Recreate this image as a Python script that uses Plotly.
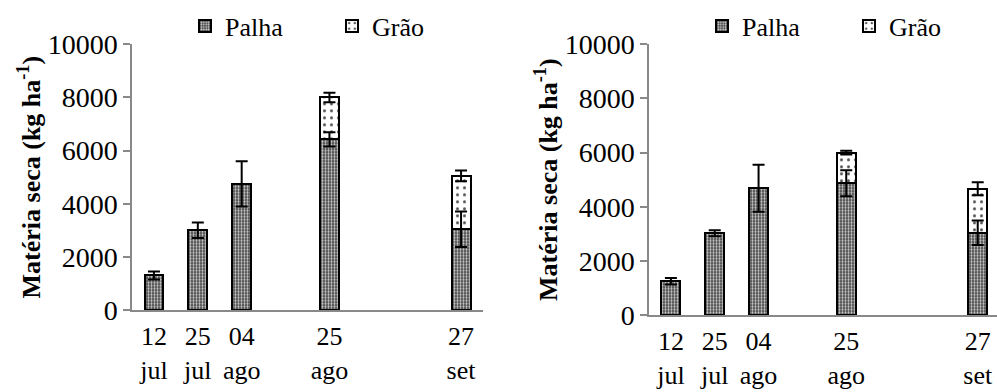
import plotly.graph_objects as go

# ---- data ----
dates = ["12<br>jul", "25<br>jul", "04<br>ago", "25<br>ago", "27<br>set"]
slots = [0, 1, 2, 4, 7]  # category slot of each sampling date (Excel axis with blank slots)

palha_a = [1300, 3000, 4750, 6420, 3040]
palha_a_err = [150, 290, 850, 270, 670]
grao_a = [None, None, None, 1580, 2010]
total_a_err = [None, None, None, 180, 200]

palha_b = [1250, 3020, 4680, 4870, 3040]
palha_b_err = [120, 110, 870, 480, 450]
grao_b = [None, None, None, 1130, 1620]
total_b_err = [None, None, None, 70, 240]

yticks = [0, 2000, 4000, 6000, 8000, 10000]
ytitle = "Matéria seca (kg ha<sup>-1</sup>)"

FONT = "Liberation Serif, Times New Roman, serif"
W, H = 997, 392

palha_marker = dict(color="#3c3c3c", line=dict(color="black", width=2),
                    pattern=dict(shape=".", bgcolor="#3c3c3c", fgcolor="#cfcfcf",
                                 size=3, solidity=0.45, fillmode="replace"))
grao_marker = dict(color="white", line=dict(color="black", width=2),
                   pattern=dict(shape=".", bgcolor="white", fgcolor="#555555",
                                size=7, solidity=0.15, fillmode="replace"))

fig = go.Figure()


def add_panel(palha, palha_err, grao, total_err, xa, ya, legend):
    fig.add_trace(go.Bar(x=slots, y=palha, name="Palha", marker=palha_marker,
                         width=0.43, xaxis=xa, yaxis=ya, legend=legend))
    fig.add_trace(go.Bar(x=slots, y=grao, name="Grão", marker=grao_marker,
                         width=0.43, xaxis=xa, yaxis=ya, legend=legend))
    # error bars drawn on top of both stacked segments
    fig.add_trace(go.Scatter(x=slots, y=palha, mode="markers",
                             marker=dict(size=1, color="rgba(0,0,0,0)"),
                             error_y=dict(type="data", array=palha_err, color="black",
                                          thickness=2, width=6),
                             showlegend=False, hoverinfo="skip", xaxis=xa, yaxis=ya))
    totals = [p + g if g is not None else None for p, g in zip(palha, grao)]
    fig.add_trace(go.Scatter(x=slots, y=totals, mode="markers",
                             marker=dict(size=1, color="rgba(0,0,0,0)"),
                             error_y=dict(type="data", array=total_err, color="black",
                                          thickness=2, width=6),
                             showlegend=False, hoverinfo="skip", xaxis=xa, yaxis=ya))


add_panel(palha_a, palha_a_err, grao_a, total_a_err, "x", "y", "legend")
add_panel(palha_b, palha_b_err, grao_b, total_b_err, "x2", "y2", "legend2")

axis_gray = "#898989"
xcommon = dict(tickmode="array", tickvals=slots, ticktext=dates, showline=True,
               linecolor=axis_gray, linewidth=1.5, ticks="", showgrid=False,
               zeroline=False, tickfont=dict(family=FONT, size=26, color="black"),
               ticklabelstandoff=2, fixedrange=True)
ycommon = dict(range=[0, 10000], tickmode="array", tickvals=yticks,
               ticktext=[str(v) for v in yticks], showline=True, linecolor=axis_gray,
               linewidth=1.5, ticks="outside", ticklen=7, tickcolor=axis_gray,
               tickwidth=1.5, showgrid=False, zeroline=False,
               tickfont=dict(family=FONT, size=28, color="black"),
               title=dict(text=ytitle, font=dict(family=FONT, size=26, color="black",
                                                  weight="bold"), standoff=0))

legcommon = dict(orientation="h", y=(H - 26) / H, xanchor="left", yanchor="middle",
                 font=dict(family=FONT, size=26, color="black"), traceorder="normal",
                 bgcolor="rgba(0,0,0,0)", entrywidth=102, entrywidthmode="pixels")

fig.update_layout(
    width=W, height=H, margin=dict(l=0, r=0, t=0, b=0, autoexpand=False),
    paper_bgcolor="white", plot_bgcolor="white",
    barmode="stack",
    font=dict(family=FONT, size=26, color="black"),
    xaxis=dict(xcommon, domain=[132 / W, 483 / W], range=[-0.5, 7.5], anchor="y"),
    yaxis=dict(ycommon, domain=[(H - 310) / H, (H - 44.3) / H], anchor="x"),
    xaxis2=dict(xcommon, domain=[649 / W, 1.0], range=[-0.5, 7.44], anchor="y2"),
    yaxis2=dict(ycommon, domain=[(H - 315) / H, (H - 44.3) / H], anchor="x2"),
    legend=dict(legcommon, x=185 / W),
    legend2=dict(legcommon, x=(185 + 517) / W),
)

fig.write_html("out.html")
